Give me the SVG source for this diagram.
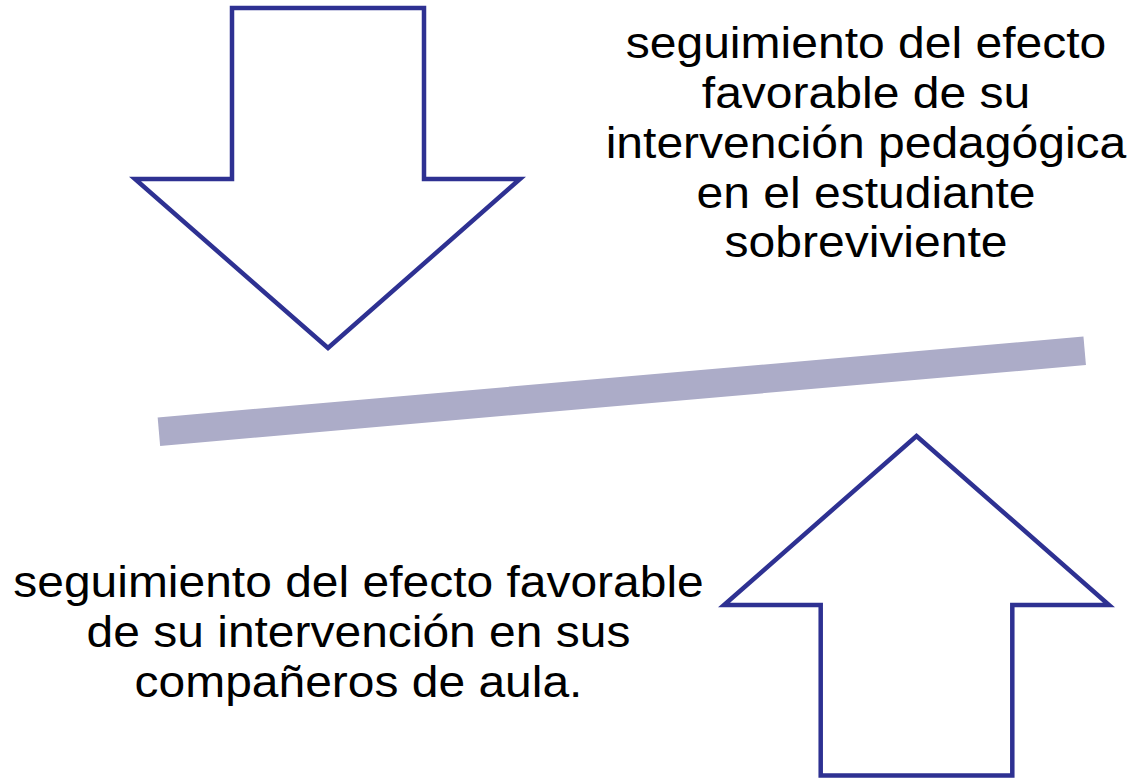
<svg xmlns="http://www.w3.org/2000/svg" width="1130" height="779" viewBox="0 0 1130 779">
<style>
.arrow{fill:#ffffff;stroke:#2e3192;stroke-width:4.5;stroke-linejoin:miter;stroke-miterlimit:10}
.lbl{font-family:"Liberation Sans",Arial,sans-serif;font-size:44px;fill:#000000;text-anchor:middle}
</style>
<rect width="1130" height="779" fill="#ffffff"/>
<g id="connectors">
<line x1="158.9" y1="431.7" x2="1084.7" y2="350.8" stroke="#acacc8" stroke-width="28.6"/>
</g>
<g id="arrow-down">
<polygon class="arrow" points="232,8 424,8 424,179 520,179 328,348 135,179 232,179"/>
</g>
<g id="arrow-up">
<polygon class="arrow" points="916.5,436 1109,605 1012.3,605 1012.3,775.5 820.7,775.5 820.7,605 724,605"/>
</g>
<g id="label-top" transform="translate(866,0) scale(1.092,1)">
<text class="lbl" x="0" y="58">seguimiento del efecto</text>
<text class="lbl" x="0" y="108">favorable de su</text>
<text class="lbl" x="0" y="158">intervención pedagógica</text>
<text class="lbl" x="0" y="208">en el estudiante</text>
<text class="lbl" x="0" y="257">sobreviviente</text>
</g>
<g id="label-bottom" transform="translate(358.5,0) scale(1.09,1)">
<text class="lbl" x="0" y="597">seguimiento del efecto favorable</text>
<text class="lbl" x="0" y="647">de su intervención en sus</text>
<text class="lbl" x="0" y="697">compañeros de aula.</text>
</g>
</svg>
